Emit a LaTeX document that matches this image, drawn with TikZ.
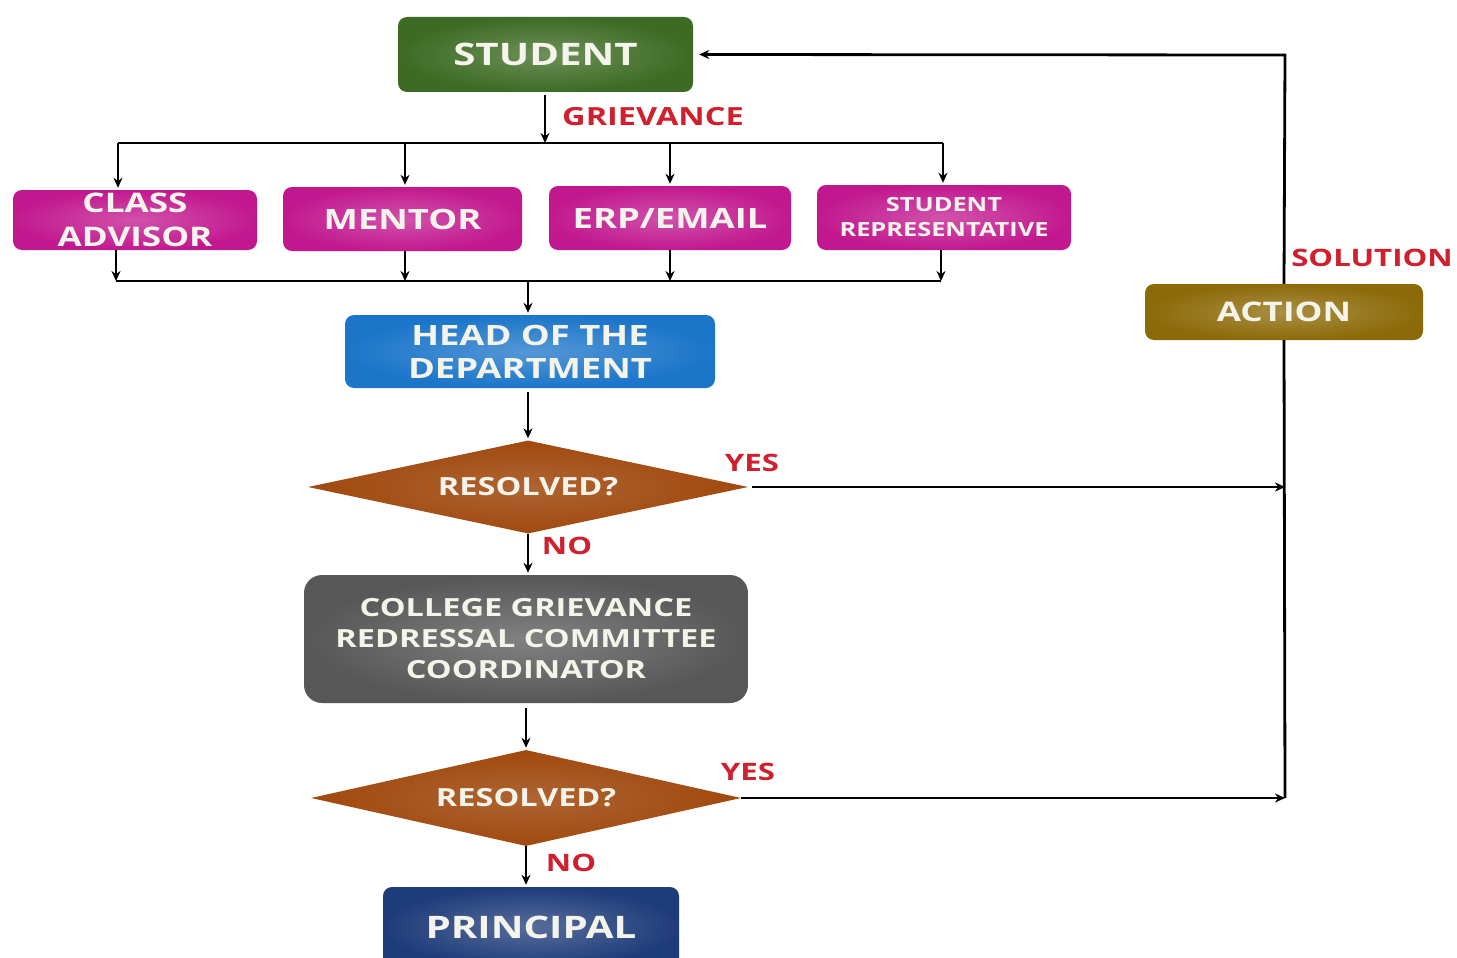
\documentclass[tikz,border=0pt]{standalone}
\usepackage{fontspec}
\newfontfamily\diagfont{Open Sans}[FakeStretch=1.3]
\usetikzlibrary{shapes.geometric,arrows.meta}
\definecolor{cgreen}{HTML}{3D6B23}
\definecolor{cmag}{HTML}{C2188F}
\definecolor{cblue}{HTML}{1B75C9}
\definecolor{cbrown}{HTML}{A0490E}
\definecolor{cgray}{HTML}{575757}
\definecolor{cnavy}{HTML}{1F3C7A}
\definecolor{cgold}{HTML}{8C6A08}
\definecolor{cred}{HTML}{D0202E}
\definecolor{boxtext}{HTML}{F4F4EA}
\newcommand{\F}[2]{\diagfont\bfseries\fontsize{#1}{#2}\selectfont}
\tikzset{
  base/.style={inner sep=0pt, text=boxtext, align=center},
  rbox/.style={base, rectangle, rounded corners=9pt, inner color=#1!75!white, outer color=#1},
  dia/.style={base, diamond, aspect=4.7, inner color=cbrown!85!white, outer color=cbrown},
  arr/.style={line width=2.8pt, -{Stealth[length=10pt,width=9pt]}},
  ln/.style={line width=2.8pt},
  lbl/.style={text=cred, inner sep=0pt}
}
\begin{document}
\begin{tikzpicture}[x=1pt,y=-1pt]
\useasboundingbox (0,0) rectangle (1457,958);
\fill[white] (0,0) rectangle (1457,958);

% nodes
\node[rbox=cgreen, minimum width=295pt, minimum height=75pt, font=\F{31}{37}] (student) at (545.5,54.5) {STUDENT};
\node[rbox=cmag, minimum width=244pt, minimum height=60pt, font=\F{27}{34}] (ca) at (135,220) {CLASS\\ADVISOR};
\node[rbox=cmag, minimum width=239pt, minimum height=64pt, font=\F{28}{34}] (mentor) at (402.5,219) {MENTOR};
\node[rbox=cmag, minimum width=242pt, minimum height=64pt, font=\F{28}{34}] (erp) at (670,218) {ERP/EMAIL};
\node[rbox=cmag, minimum width=254pt, minimum height=65pt, font=\F{19.5}{25}] (srep) at (944,217.5) {STUDENT\\REPRESENTATIVE};
\node[rbox=cblue, minimum width=370pt, minimum height=73pt, font=\F{28}{33}] (hod) at (530,351.5) {HEAD OF THE\\DEPARTMENT};
\node[dia, minimum width=440pt, minimum height=93pt, font=\F{25}{30}] (d1) at (528,487) {RESOLVED?};
\node[rbox=cgray, rounded corners=18pt, minimum width=444pt, minimum height=128pt, font=\F{25}{31}] (cgrc) at (526,639) {COLLEGE GRIEVANCE\\REDRESSAL COMMITTEE\\COORDINATOR};
\node[dia, minimum width=430pt, minimum height=96pt, font=\F{25}{30}] (d2) at (526,798) {RESOLVED?};
\node[rbox=cnavy, minimum width=296pt, minimum height=80pt, font=\F{31}{37}] (principal) at (531,927) {PRINCIPAL};
\node[rbox=cgold, minimum width=278pt, minimum height=56pt, font=\F{27}{33}] (action) at (1284,312) {ACTION};

% labels
\node[lbl, font=\F{25}{30}] (lgriev) at (653,117) {GRIEVANCE};
\node[lbl, font=\F{24}{28}] (lsol) at (1372,258) {SOLUTION};
\node[lbl, font=\F{24}{28}] (lyes1) at (752,463) {YES};
\node[lbl, font=\F{24}{28}] (lno1) at (567,546) {NO};
\node[lbl, font=\F{24}{28}] (lyes2) at (748,772) {YES};
\node[lbl, font=\F{24}{28}] (lno2) at (571,863) {NO};

% top bus
\coordinate (busT) at (545,143);
\coordinate (t1) at (118,143);
\coordinate (t2) at (405,143);
\coordinate (t3) at (670,143);
\coordinate (t4) at (943,143);
\draw[arr, shorten <=3pt] (busT |- student.south) -- (busT);
\draw[ln] (t1) -- (t4);
\draw[arr, shorten >=2pt] (t1) -- (t1 |- ca.north);
\draw[arr, shorten >=2pt] (t2) -- (t2 |- mentor.north);
\draw[arr, shorten >=2pt] (t3) -- (t3 |- erp.north);
\draw[arr, shorten >=2pt] (t4) -- (t4 |- srep.north);

% bottom bus
\coordinate (busB) at (528,281);
\coordinate (b1) at (116,281);
\coordinate (b2) at (405,281);
\coordinate (b3) at (670,281);
\coordinate (b4) at (941,281);
\draw[arr] (b1 |- ca.south) -- (b1);
\draw[arr] (b2 |- mentor.south) -- (b2);
\draw[arr] (b3 |- erp.south) -- (b3);
\draw[arr] (b4 |- srep.south) -- (b4);
\draw[ln] (b1) -- (b4);
\draw[arr, shorten >=2pt] (busB) -- (busB |- hod.north);

% main column
\draw[arr, shorten <=4pt, shorten >=2pt] (d1.north |- hod.south) -- (d1.north);
\draw[arr, shorten >=2pt] (d1.south) -- (d1.south |- cgrc.north);
\draw[arr, shorten <=5pt, shorten >=2pt] (d2.north |- cgrc.south) -- (d2.north);
\draw[arr, shorten >=2pt] (d2.south) -- (d2.south |- principal.north);

% right return path
\coordinate (rt) at (1285,55);
\draw[arr, shorten <=4pt] (d1.east) -- (d1.east -| rt);
\draw[arr] (d2.east) -- (d2.east -| rt);
\draw[ln] (d2.east -| rt) -- (action.south);
\draw[arr, shorten >=6pt] (action.north) -- (rt) -- (student.east);
\end{tikzpicture}
\end{document}
